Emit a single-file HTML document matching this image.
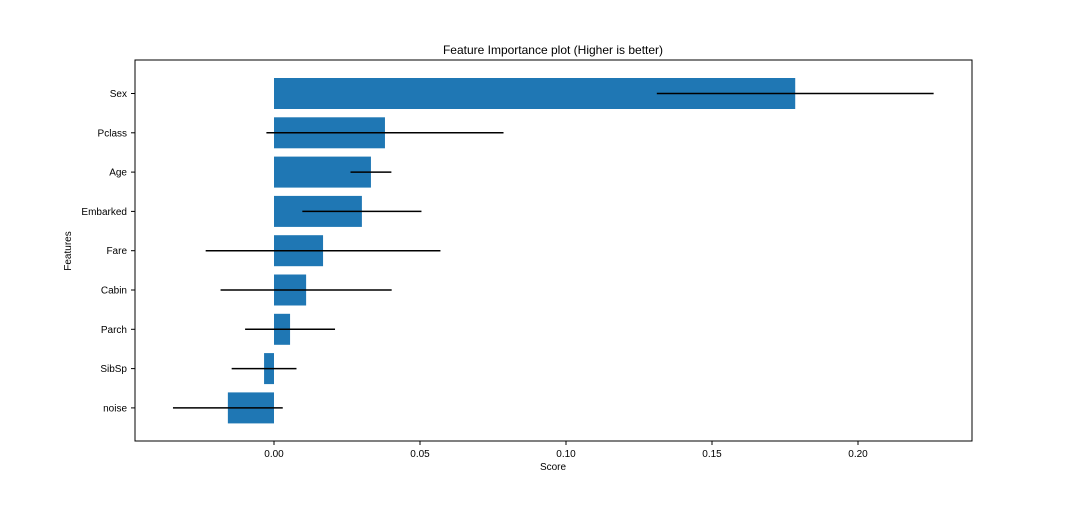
<!DOCTYPE html>
<html><head><meta charset="utf-8"><style>
body{margin:0;background:#fff;}
svg text{font-family:"Liberation Sans","DejaVu Sans",sans-serif;font-size:10px;fill:#000;}
</style></head><body>
<svg width="1080" height="504">
<rect x="0" y="0" width="1080" height="504" fill="#fff"/>
<text x="553" y="54" text-anchor="middle" style="font-size:12px">Feature Importance plot (Higher is better)</text>
<g id="marks"></g>
<rect x="135" y="60" width="837" height="381" fill="none" stroke="#000" stroke-width="1"/>
<g id="axes"></g>
<text x="553" y="470" text-anchor="middle">Score</text>
<text transform="translate(71,251) rotate(-90)" text-anchor="middle">Features</text>
</svg>
<script>
const features=["Sex","Pclass","Age","Embarked","Fare","Cabin","Parch","SibSp","noise"];
const scores=[0.1785,0.038,0.0332,0.0301,0.0168,0.011,0.0055,-0.0034,-0.0158];
const errors=[0.0474,0.0406,0.007,0.0204,0.0402,0.0293,0.0154,0.0111,0.0188];
const xTicks=[0,0.05,0.10,0.15,0.20];
const xTickLabels=["0.00","0.05","0.10","0.15","0.20"];
const NS="http://www.w3.org/2000/svg";
const x=v=>274+v*2920;
const y=i=>93.5+i*39.3;
const marks=document.getElementById('marks'),axes=document.getElementById('axes');
function mk(tag,attrs,parent){const e=document.createElementNS(NS,tag);for(const k in attrs)e.setAttribute(k,attrs[k]);parent.appendChild(e);return e;}
features.forEach((f,i)=>{
 const x0=Math.min(x(0),x(scores[i])),w=Math.abs(x(scores[i])-x(0));
 const b=mk('rect',{x:x0,y:y(i)-15.5,width:w,height:31,fill:'#1f77b4'},marks);
 
 
 const l=mk('line',{x1:x(scores[i]-errors[i]),x2:x(scores[i]+errors[i]),y1:y(i),y2:y(i),stroke:'#000','stroke-width':1.5},marks);
 
 
 mk('line',{x1:131,x2:135,y1:y(i),y2:y(i),stroke:'#000'},axes);
 const t=mk('text',{x:127,y:y(i)+3.5,'text-anchor':'end'},axes);
 t.textContent=f;
 
 
});
xTicks.forEach((v,i)=>{
 mk('line',{x1:x(v),x2:x(v),y1:441,y2:445,stroke:'#000'},axes);
 const t=mk('text',{x:x(v),y:457,'text-anchor':'middle'},axes);
 t.textContent=xTickLabels[i];
 
 
});
</script>
</body></html>
